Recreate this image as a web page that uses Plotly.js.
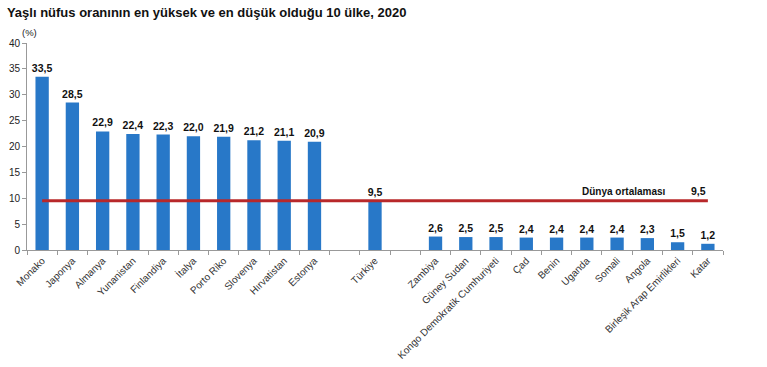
<!DOCTYPE html>
<html><head><meta charset="utf-8">
<script src="https://cdn.plot.ly/plotly-3.0.1.min.js"></script>
<style>html,body{margin:0;padding:0;background:#fff}#c{width:767px;height:367px}</style>
</head><body><div id="c"></div>
<script>
const categories = ["Monako","Japonya","Almanya","Yunanistan","Finlandiya","İtalya","Porto Riko","Slovenya","Hırvatistan","Estonya"," ","Türkiye","  ","Zambiya","Güney Sudan","Kongo Demokratik Cumhuriyeti","Çad","Benin","Uganda","Somali","Angola","Birleşik Arap Emirlikleri","Katar"];
const values = [33.5,28.5,22.9,22.4,22.3,22.0,21.9,21.2,21.1,20.9,null,9.5,null,2.6,2.5,2.5,2.4,2.4,2.4,2.4,2.3,1.5,1.2];
const worldAverage = 9.5;
const worldLabel = "Dünya ortalaması";
const yTicks = [0,5,10,15,20,25,30,35,40];

const font = "Liberation Sans, Arial, sans-serif";
const traces = [
  {type:"bar", x:categories, y:values, marker:{color:"#2878c8"},
   texttemplate:"%{y:.1f}", textposition:"outside", cliponaxis:false, constraintext:"none",
   textfont:{family:font, size:10.5, color:"#111", weight:"bold"}, hoverinfo:"none"},
  {type:"scatter", mode:"lines", x:[categories[0], categories[categories.length-1]], y:[worldAverage, worldAverage],
   line:{color:"#b8282a", width:3}, hoverinfo:"none"}
];
const layout = {
  width:767, height:367, showlegend:false, separators:",.",
  margin:{l:27, r:44, t:43, b:117},
  paper_bgcolor:"#fff", plot_bgcolor:"#fff",
  bargap:0.56,
  font:{family:font, size:10, color:"#222"},
  title:{text:"<b>Yaşlı nüfus oranının en yüksek ve en düşük olduğu 10 ülke, 2020</b>", x:0.009, xanchor:"left", y:0.965, yanchor:"middle", font:{family:font, size:13, color:"#111"}},
  xaxis:{type:"category", tickangle:-45, tickson:"boundaries", ticks:"outside", ticklen:4, tickcolor:"#999",
         showline:true, linecolor:"#999", linewidth:1, showgrid:false, tickfont:{family:font, size:10, color:"#333"}, fixedrange:true},
  yaxis:{range:[0,40], tickvals:yTicks, ticks:"outside", ticklen:4, tickcolor:"#999", showline:true, linecolor:"#999",
         showgrid:false, zeroline:false, tickfont:{family:font, size:10, color:"#222"}, fixedrange:true},
  annotations:[
    {xref:"paper", yref:"paper", x:-0.01, y:1.053, text:"(%)", showarrow:false, xanchor:"left", yanchor:"middle", font:{family:font, size:9.5, color:"#222"}},
    {xref:"x", yref:"y", x:categories[categories.length-2], y:worldAverage, text:"<b>"+worldLabel+"</b>", showarrow:false, xanchor:"right", yanchor:"bottom", yshift:2, xshift:-10, font:{family:font, size:10, color:"#111"}},
    {xref:"x", yref:"y", x:categories[categories.length-1], y:worldAverage, text:"<b>9,5</b>", showarrow:false, xanchor:"center", yanchor:"bottom", yshift:2, xshift:-9, font:{family:font, size:10.5, color:"#111"}}
  ]
};
Plotly.newPlot("c", traces, layout, {displayModeBar:false, staticPlot:true});
</script></body></html>
